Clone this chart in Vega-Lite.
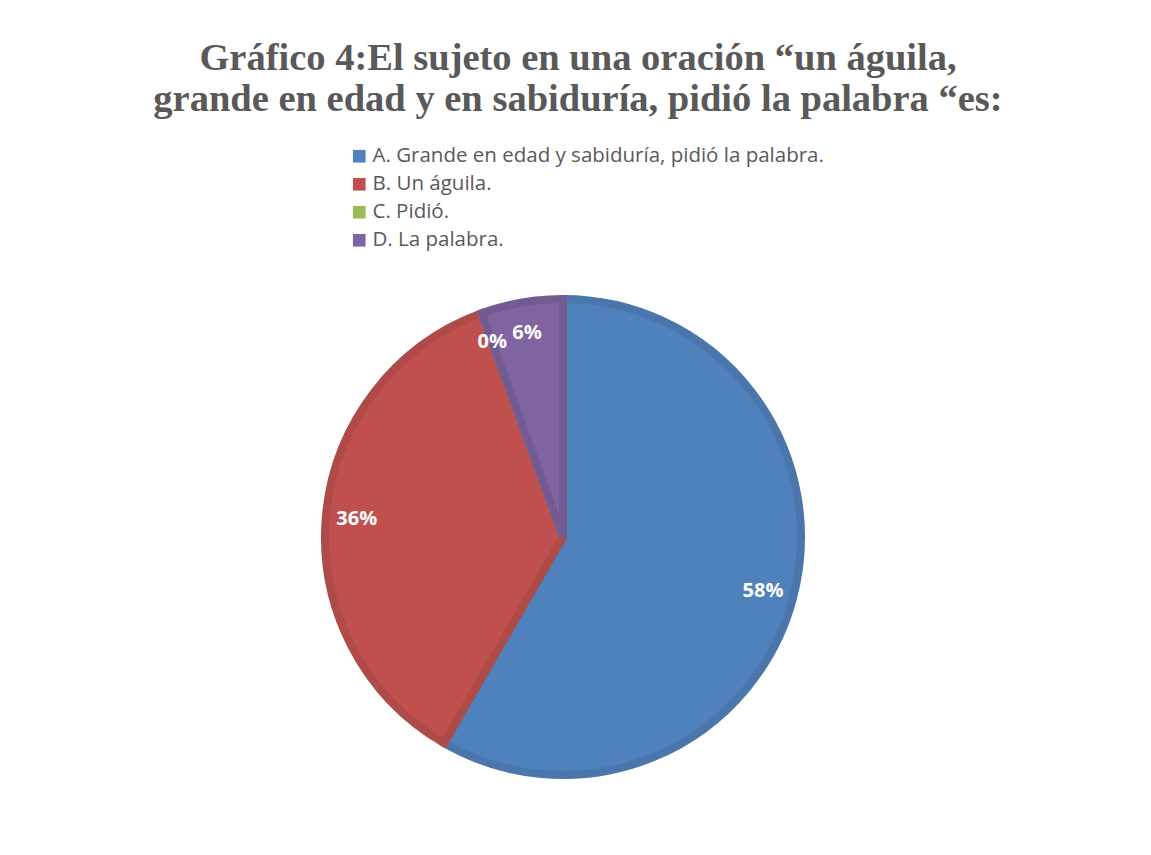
{
  "$schema": "https://vega.github.io/schema/vega-lite/v6.json",
  "autosize": "none",
  "width": 484,
  "height": 484,
  "padding": {"left": 321, "top": 295, "right": 346, "bottom": 76},
  "background": "white",
  "title": {
    "text": ["Gráfico 4:El sujeto en una oración “un águila,", "grande en edad y en sabiduría, pidió la palabra “es:"],
    "font": "Liberation Serif",
    "fontSize": 38.5,
    "fontWeight": "bold",
    "color": "#595959",
    "anchor": "middle",
    "dx": 15,
    "offset": 27,
    "lineHeight": 41
  },
  "data": {
    "values": [
      {"opcion": "A. Grande en edad y sabiduría, pidió la palabra.", "valor": 21, "etiqueta": "58%"},
      {"opcion": "B. Un águila.", "valor": 13, "etiqueta": "36%"},
      {"opcion": "C. Pidió.", "valor": 0, "etiqueta": "0%"},
      {"opcion": "D. La palabra.", "valor": 2, "etiqueta": "6%"}
    ]
  },
  "encoding": {
    "theta": {"field": "valor", "type": "quantitative", "stack": true},
    "order": {"field": "opcion", "type": "nominal"}
  },
  "layer": [
    {
      "mark": {"type": "arc", "outerRadius": 238, "strokeWidth": 8},
      "encoding": {
        "color": {
          "field": "opcion",
          "type": "nominal",
          "scale": {
            "domain": ["A. Grande en edad y sabiduría, pidió la palabra.", "B. Un águila.", "C. Pidió.", "D. La palabra."],
            "range": ["#4F81BD", "#C0504D", "#9BBB59", "#8064A2"]
          },
          "legend": {
            "title": null,
            "orient": "none",
            "legendX": 28,
            "legendY": -149,
            "symbolType": "square",
            "symbolSize": 160,
            "symbolStrokeWidth": 0,
            "labelFont": "Open Sans",
            "labelFontSize": 20.5,
            "labelColor": "#595959",
            "rowPadding": 7,
            "labelOffset": 3,
            "labelLimit": 700
          }
        },
        "stroke": {
          "field": "opcion",
          "type": "nominal",
          "scale": {
            "domain": ["A. Grande en edad y sabiduría, pidió la palabra.", "B. Un águila.", "C. Pidió.", "D. La palabra."],
            "range": ["#4A76AB", "#AE4A47", "#8CA951", "#735A93"]
          },
          "legend": null
        }
      }
    },
    {
      "mark": {"type": "text", "radius": 207, "font": "Open Sans", "fontWeight": "bold", "fontSize": 20, "color": "white"},
      "encoding": {
        "text": {"field": "etiqueta", "type": "nominal"}
      }
    }
  ]
}
